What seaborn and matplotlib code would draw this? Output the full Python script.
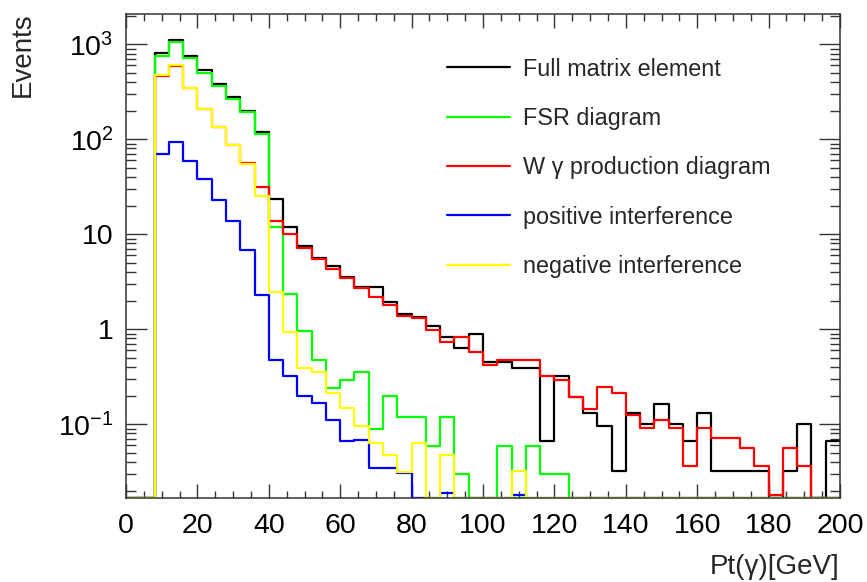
import numpy as np
import pandas as pd
import matplotlib
matplotlib.use("Agg")
import matplotlib.pyplot as plt
from matplotlib.lines import Line2D
from matplotlib.ticker import FixedLocator, MultipleLocator, LogLocator, NullFormatter
import seaborn as sns

# ---- data: 4 GeV bins from 0 to 200 ----
bin_edges = [float(e) for e in range(0, 204, 4)]
full_me = [0, 0, 804, 1110, 760, 530, 380, 277, 200, 119,
           23.5, 12.0, 7.6, 5.6, 4.67, 3.58, 2.8, 2.8, 1.95, 1.44,
           1.36, 1.08, 0.82, 0.63, 0.89, 0.456, 0.456, 0.39, 0.39, 0.066,
           0.32, 0.195, 0.132, 0.097, 0.0325, 0.13, 0.10, 0.165, 0.10, 0.066,
           0.132, 0.0325, 0.0325, 0.0325, 0.0325, 0, 0.0325, 0.10, 0, 0.066]
fsr = [0, 0, 753, 1050, 710, 500, 363, 264, 194, 114,
       12.0, 2.35, 0.97, 0.475, 0.24, 0.29, 0.358, 0.089, 0.20, 0.119,
       0.119, 0.059, 0.119, 0.030, 0, 0, 0.059, 0, 0.059, 0.030,
       0.030, 0, 0, 0, 0, 0, 0, 0, 0, 0,
       0, 0, 0, 0, 0, 0, 0, 0, 0, 0]
wgamma = [0, 0, 468, 590, 344, 208, 135, 88, 56, 31.7,
          13.8, 10.0, 7.1, 5.5, 4.3, 3.5, 2.74, 2.2, 1.8, 1.39,
          1.3, 0.98, 0.74, 0.82, 0.58, 0.42, 0.48, 0.48, 0.48, 0.32,
          0.29, 0.195, 0.144, 0.249, 0.215, 0.126, 0.091, 0.111, 0.091, 0.036,
          0.091, 0.072, 0.072, 0.056, 0.036, 0.018, 0.056, 0.036, 0, 0]
pos_int = [0, 0, 69.5, 93, 59, 38, 23, 13.8, 6.8, 2.3,
           0.475, 0.325, 0.2, 0.166, 0.112, 0.067, 0.069, 0.035, 0.035, 0.031,
           0, 0, 0.019, 0, 0, 0, 0, 0.018, 0, 0,
           0, 0, 0, 0, 0, 0, 0, 0, 0, 0,
           0, 0, 0, 0, 0, 0, 0, 0, 0, 0]
neg_int = [0, 0, 478, 605, 344, 208, 135, 88, 55, 25.5,
           2.49, 0.93, 0.39, 0.358, 0.215, 0.147, 0.097, 0.064, 0.048, 0.0317,
           0.064, 0, 0.048, 0, 0, 0, 0, 0.032, 0, 0,
           0, 0, 0, 0, 0, 0, 0, 0, 0, 0,
           0, 0, 0, 0, 0, 0, 0, 0, 0, 0]

labels = ["Full matrix element", "FSR diagram", "W \u03b3 production diagram",
          "positive interference", "negative interference"]
colors = ["#000000", "#00ff00", "#ff0000", "#0000ff", "#ffff00"]
series = [full_me, fsr, wgamma, pos_int, neg_int]

y_tick_vals = [0.1, 1, 10, 100, 1000]
y_tick_labels = [r"$10^{-1}$", "1", "10", r"$10^{2}$", r"$10^{3}$"]
x_tick_vals = [0, 20, 40, 60, 80, 100, 120, 140, 160, 180, 200]

YMIN, YMAX = 0.01675, 2084

sns.set_theme(style="ticks")
plt.rcParams["font.family"] = ["Liberation Sans", "DejaVu Sans"]
plt.rcParams["mathtext.fontset"] = "custom"
plt.rcParams["mathtext.rm"] = "Liberation Sans"
plt.rcParams["mathtext.it"] = "Liberation Sans:italic"

fig = plt.figure(figsize=(8.67, 5.82), dpi=100)
ax = fig.add_axes([126 / 867, 1 - 498 / 582, (840 - 126) / 867, (498 - 14) / 582])
ax.set_yscale("log")

edges_arr = np.asarray(bin_edges)
centers = (edges_arr[:-1] + edges_arr[1:]) / 2
for vals, col in zip(series, colors):
    v = np.asarray(vals, dtype=float)
    v = np.where(v > 0, v, YMIN)
    df = pd.DataFrame({"pt": centers, "w": v})
    sns.histplot(data=df, x="pt", weights="w", bins=bin_edges, element="step", fill=False,
                 color=col, linewidth=1.6, ax=ax)

ax.set_xlim(0, 200)
ax.set_ylim(YMIN, YMAX)
ax.set_xlabel("")
ax.set_ylabel("")

ax.xaxis.set_major_locator(FixedLocator(x_tick_vals))
ax.xaxis.set_minor_locator(MultipleLocator(5))
ax.set_xticklabels([str(v) for v in x_tick_vals])
ax.yaxis.set_major_locator(FixedLocator(y_tick_vals))
ax.set_yticklabels(y_tick_labels)
ax.yaxis.set_minor_locator(LogLocator(base=10, subs=np.arange(2, 10)))
ax.yaxis.set_minor_formatter(NullFormatter())

ax.tick_params(axis="both", which="both", direction="in", top=True, right=True,
               colors="#333333", labelcolor="black", width=1.0)
ax.tick_params(axis="x", which="major", length=10, labelsize=20.5, pad=11)
ax.tick_params(axis="x", which="minor", length=5)
ax.tick_params(axis="y", which="major", length=15, labelsize=20.5, pad=9)
ax.tick_params(axis="y", which="minor", length=7.5)
for s in ax.spines.values():
    s.set_linewidth(1.1)
    s.set_color("#333333")

fig.text(840 / 867, 1 - 567 / 582, "Pt(\u03b3)[GeV]", ha="right", va="center", fontsize=20)
fig.text(23 / 867, 1 - 55 / 582, "Events", rotation=90, ha="center", va="center", fontsize=20)

handles = [Line2D([0], [0], color=c, lw=1.6) for c in colors]
fig.legend(handles, labels, loc="upper left", bbox_to_anchor=(447 / 867, 1 - 57.5 / 582),
           frameon=False, fontsize=16.8, handlelength=2.7, handletextpad=0.55,
           labelspacing=1.13, borderpad=0, borderaxespad=0)

fig.savefig("out.png", dpi=100)
